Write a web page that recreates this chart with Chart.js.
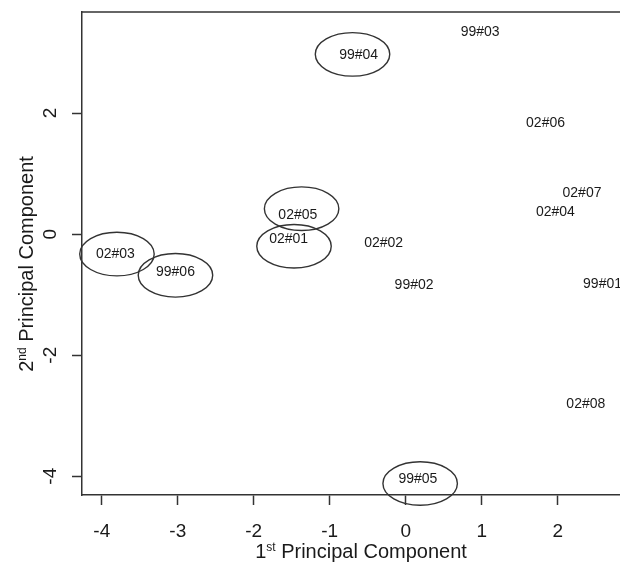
<!DOCTYPE html>
<html>
<head>
<meta charset="utf-8">
<script src="https://cdn.jsdelivr.net/npm/chart.js@4/dist/chart.umd.min.js"></script>
<style>
  html, body { margin: 0; padding: 0; background: #fff; overflow: hidden; }
  canvas { display: block; }
</style>
</head>
<body>
<canvas id="pca" width="620" height="563"></canvas>
<script>
/*
    DATA
*/
const SAMPLES = ['99#03', '99#04', '02#06', '02#07', '02#04', '02#05', '02#01', '02#02', '02#03', '99#06', '99#02', '99#01', '02#08', '99#05'];
const PC1 = [0.98, -0.62, 1.84, 2.32, 1.97, -1.42, -1.54, -0.29, -3.82, -3.03, 0.11, 2.59, 2.37, 0.16];
const PC2 = [3.34, 2.96, 1.84, 0.67, 0.36, 0.31, -0.09, -0.15, -0.33, -0.62, -0.84, -0.83, -2.81, -4.05];
// circled groups (ellipse centres)
const CIRCLE_PC1 = [-0.70, -1.37, -1.47, -3.80, -3.03, 0.19];
const CIRCLE_PC2 = [2.97, 0.42, -0.20, -0.33, -0.68, -4.12];
const X_TICKS = [-4, -3, -2, -1, 0, 1, 2];
const Y_TICKS = [-4, -2, 0, 2];
const X_TITLE = ['1', 'st', ' Principal Component'];
const Y_TITLE = ['2', 'nd', ' Principal Component'];

/*
    STYLE
*/
const d = document;
const FONT = "'Liberation Sans', Arial, sans-serif";
const INK = '#333';
const TEXT = '#1a1a1a';
const ELLIPSE_RX = 0.49; // data units
const ELLIPSE_RY = 0.36;

/*
    HELPERS
*/
const drawSupText = (ctx, parts, size) => {
  // parts: [main, superscript, rest]; drawn centred on current origin
  const small = Math.round(size * 0.62);
  ctx.font = `${size}px ${FONT}`;
  const w0 = ctx.measureText(parts[0]).width;
  const w2 = ctx.measureText(parts[2]).width;
  ctx.font = `${small}px ${FONT}`;
  const w1 = ctx.measureText(parts[1]).width;
  let x = -(w0 + w1 + w2) / 2;
  ctx.textAlign = 'left';
  ctx.textBaseline = 'alphabetic';
  const base = size * 0.36;
  ctx.font = `${size}px ${FONT}`;
  ctx.fillText(parts[0], x, base);
  x += w0;
  ctx.font = `${small}px ${FONT}`;
  ctx.fillText(parts[1], x, base - size * 0.36);
  x += w1;
  ctx.font = `${size}px ${FONT}`;
  ctx.fillText(parts[2], x, base);
};

const pcaDecor = {
  id: 'pcaDecor',
  afterDraw(chart) {
    const { ctx, chartArea, scales } = chart;
    const xs = scales.x;
    const ys = scales.y;
    ctx.save();

    // top of the box
    ctx.strokeStyle = INK;
    ctx.lineWidth = 1.5;
    ctx.beginPath();
    ctx.moveTo(chartArea.left, chartArea.top);
    ctx.lineTo(chartArea.right, chartArea.top);
    ctx.stroke();

    // sample labels at the (hidden) points
    ctx.fillStyle = TEXT;
    ctx.font = `14px ${FONT}`;
    ctx.textAlign = 'center';
    ctx.textBaseline = 'middle';
    chart.getDatasetMeta(0).data.forEach((pt, i) => {
      ctx.fillText(SAMPLES[i], pt.x, pt.y);
    });

    // ellipses round the circled samples
    ctx.lineWidth = 1.4;
    CIRCLE_PC1.forEach((cx, i) => {
      const px = xs.getPixelForValue(cx);
      const py = ys.getPixelForValue(CIRCLE_PC2[i]);
      const rx = Math.abs(xs.getPixelForValue(cx + ELLIPSE_RX) - px);
      const ry = Math.abs(ys.getPixelForValue(CIRCLE_PC2[i] + ELLIPSE_RY) - py);
      ctx.beginPath();
      ctx.ellipse(px, py, rx, ry, 0, 0, Math.PI * 2);
      ctx.stroke();
    });

    // y tick labels, rotated like R
    ctx.fillStyle = TEXT;
    ctx.font = `19px ${FONT}`;
    ctx.textAlign = 'center';
    ctx.textBaseline = 'middle';
    ys.ticks.forEach((t) => {
      ctx.save();
      ctx.translate(chartArea.left - 31, ys.getPixelForValue(t.value));
      ctx.rotate(-Math.PI / 2);
      ctx.fillText(String(t.value), 0, 0);
      ctx.restore();
    });

    // axis titles
    ctx.fillStyle = TEXT;
    ctx.save();
    ctx.translate(361, 551);
    drawSupText(ctx, X_TITLE, 20);
    ctx.restore();

    ctx.save();
    ctx.translate(26, 264);
    ctx.rotate(-Math.PI / 2);
    drawSupText(ctx, Y_TITLE, 20);
    ctx.restore();

    ctx.restore();
  }
};

/*
    CHART
*/
const points = PC1.map((x, i) => ({ x, y: PC2[i] }));

new Chart(d.getElementById('pca').getContext('2d'), {
  type: 'scatter',
  data: {
    datasets: [{ data: points, pointRadius: 0, pointHoverRadius: 0 }]
  },
  options: {
    responsive: false,
    animation: false,
    events: [],
    layout: { padding: { top: 12, left: 0, right: 0, bottom: 0 } },
    plugins: { legend: { display: false }, tooltip: { enabled: false } },
    scales: {
      x: {
        type: 'linear',
        min: -4.26,
        max: 2.82,
        afterBuildTicks: (s) => { s.ticks = X_TICKS.map((value) => ({ value })); },
        afterFit: (s) => { s.height = 68; },
        border: { color: INK, width: 1.5 },
        grid: { drawOnChartArea: false, tickLength: 10, color: INK, tickWidth: 1.5 },
        ticks: { color: TEXT, font: { family: FONT, size: 19 }, padding: 15, maxRotation: 0, autoSkip: false }
      },
      y: {
        type: 'linear',
        min: -4.31,
        max: 3.67,
        afterBuildTicks: (s) => { s.ticks = Y_TICKS.map((value) => ({ value })); },
        afterFit: (s) => { s.width = 82; },
        border: { color: INK, width: 1.5 },
        grid: { drawOnChartArea: false, tickLength: 10, color: INK, tickWidth: 1.5 },
        ticks: { display: false }
      }
    }
  },
  plugins: [pcaDecor]
});
</script>
</body>
</html>
